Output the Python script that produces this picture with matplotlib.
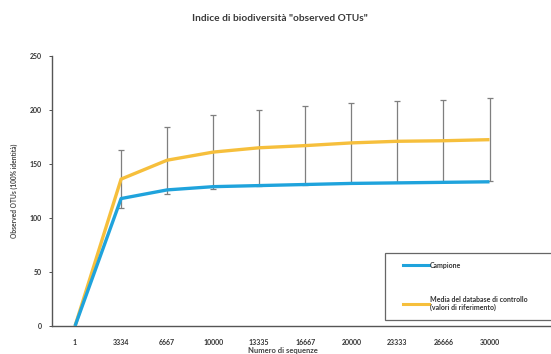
import numpy as np
import matplotlib
matplotlib.use("Agg")
import matplotlib.pyplot as plt
from matplotlib.patches import Rectangle
from matplotlib.lines import Line2D

plt.rcParams['font.family'] = ['Lato', 'DejaVu Sans']

# rarefaction data
sequenze = ['1', '3334', '6667', '10000', '13335', '16667', '20000', '23333', '26666', '30000']
campione = [0, 118, 126, 129, 130, 131, 132, 132.5, 133, 133.5]
media_db = [0, 136, 153.5, 161, 165, 167, 169.5, 171, 171.5, 172.5]
dev_std = [0, 27, 31, 34, 35, 36.5, 37, 37.5, 38, 38.5]

blu = '#1fa3dc'
giallo = '#f6bf3c'
grigio = '#7f7f7f'

fig = plt.figure(figsize=(5.51, 3.54), dpi=100)
ax = fig.add_axes([0.0944, 0.079, 0.906, 0.763])

x = np.arange(len(sequenze))

# error bars on the reference mean (skip the first point)
ax.errorbar(x[1:], media_db[1:], yerr=dev_std[1:], fmt='none', ecolor=grigio,
            elinewidth=0.9, capsize=2.5, capthick=0.9, zorder=1)
ax.plot(x, campione, color=blu, lw=2.4, zorder=3, solid_capstyle='butt')
ax.plot(x, media_db, color=giallo, lw=2.4, zorder=2, solid_capstyle='butt')

ax.set_xlim(-0.5, 10.34)
ax.set_ylim(0, 250)
ax.set_yticks([0, 50, 100, 150, 200, 250])
ax.set_xticks(x)
ax.set_xticklabels(sequenze)
ax.tick_params(axis='x', length=0, pad=9, labelsize=5, colors='#333333')
ax.tick_params(axis='y', length=2.5, width=0.6, pad=5, labelsize=5, colors='#333333')
for lab in ax.get_xticklabels() + ax.get_yticklabels():
    lab.set_fontweight('bold')
for s in ['top', 'right']:
    ax.spines[s].set_visible(False)
for s in ['left', 'bottom']:
    ax.spines[s].set_color('#555555')
    ax.spines[s].set_linewidth(1.0)

ax.set_ylabel('Observed OTUs (100% identità)', fontsize=4.8, color='#444444',
              fontweight='bold', labelpad=8)
fig.text(0.513, 0.001, 'Numero di sequenze', ha='center', va='bottom',
         fontsize=5.5, color='#444444', fontweight='bold')

fig.text(0.508, 0.948, 'Indice di biodiversità "observed OTUs"', ha='center',
         va='center', fontsize=7.3, color='#3a3a3a', fontweight='bold')

# legend box
fig.patches.append(Rectangle((385 / 551, 1 - 320 / 354), 0.32, 67 / 354,
                             transform=fig.transFigure, facecolor='white',
                             edgecolor='#666666', lw=0.9, zorder=5))
handles = [Line2D([], [], color=blu, lw=2.2), Line2D([], [], color=giallo, lw=2.2)]
leg = fig.legend(handles, ['Campione', 'Media del database di controllo\n(valori di riferimento)'],
                 loc='upper left', bbox_to_anchor=(400 / 551, 1 - 259 / 354),
                 frameon=False, fontsize=5.0, handlelength=3.8, handletextpad=0.15,
                 labelspacing=3.9, borderaxespad=0)
leg.set_zorder(6)
for t in leg.get_texts():
    t.set_fontweight('bold')
    t.set_color('#333333')

fig.savefig('out.png', dpi=100)
